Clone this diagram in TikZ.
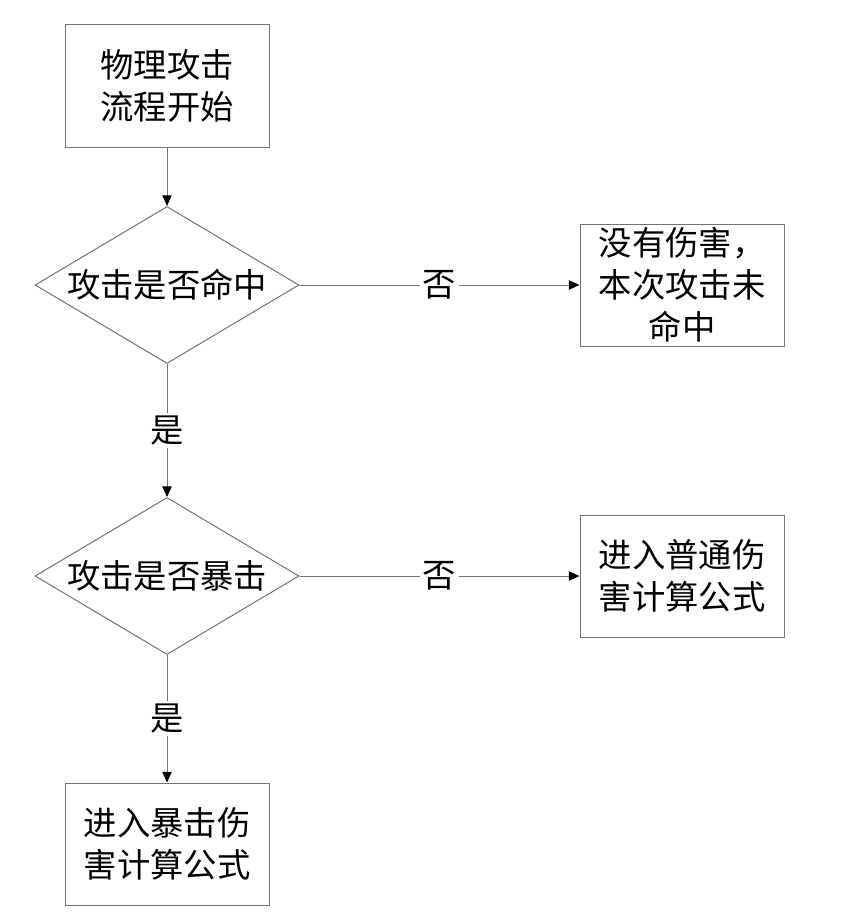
\documentclass[tikz,border=0pt]{standalone}
\usepackage{fontspec}
\newfontfamily\cjk{Noto Sans CJK SC}
\usetikzlibrary{shapes.geometric,arrows.meta}
\begin{document}
\begin{tikzpicture}[x=0.75pt,y=-0.75pt,
  every node/.style={font=\cjk\fontsize{25pt}{31.5pt}\selectfont},
  boxnode/.style={draw=gray!90!black, line width=0.75pt, rectangle, minimum width=153pt, minimum height=91.5pt, inner sep=0pt, align=center},
  dianode/.style={draw=gray!90!black, line width=0.75pt, diamond, minimum width=198pt, minimum height=117.75pt, inner sep=0pt},
  txt/.style={inner sep=0pt, align=center},
  conn/.style={draw=gray!90!black, line width=0.75pt, -{Triangle[length=8pt,width=7pt,color=black,fill=black]}},
  lbl/.style={fill=white, inner sep=2pt}]
\useasboundingbox (0,0) rectangle (864,917);
\node[boxnode] (start) at (167,86) {物理攻击\\流程开始};
\node[dianode] (d1) at (167,285) {};
\node[txt] (d1t) at (d1.center) {攻击是否命中};
\node[boxnode] (miss) at (682,285) {没有伤害，\\本次攻击未\\命中};
\node[dianode] (d2) at (167,576) {};
\node[txt] (d2t) at (d2.center) {攻击是否暴击};
\node[boxnode] (normal) at (682,576) {进入普通伤\\害计算公式};
\node[boxnode] (crit) at (167,844) {进入暴击伤\\害计算公式};
\draw[conn] (start.south) -- (d1.north);
\draw[conn] (d1.east) -- node[lbl] (l1) {否} (miss.west);
\draw[conn] (d1.south) -- node[lbl, pos=0.5] (l2) {是} (d2.north);
\draw[conn] (d2.east) -- node[lbl] (l3) {否} (normal.west);
\draw[conn] (d2.south) -- node[lbl, pos=0.5] (l4) {是} (crit.north);
\end{tikzpicture}
\end{document}
